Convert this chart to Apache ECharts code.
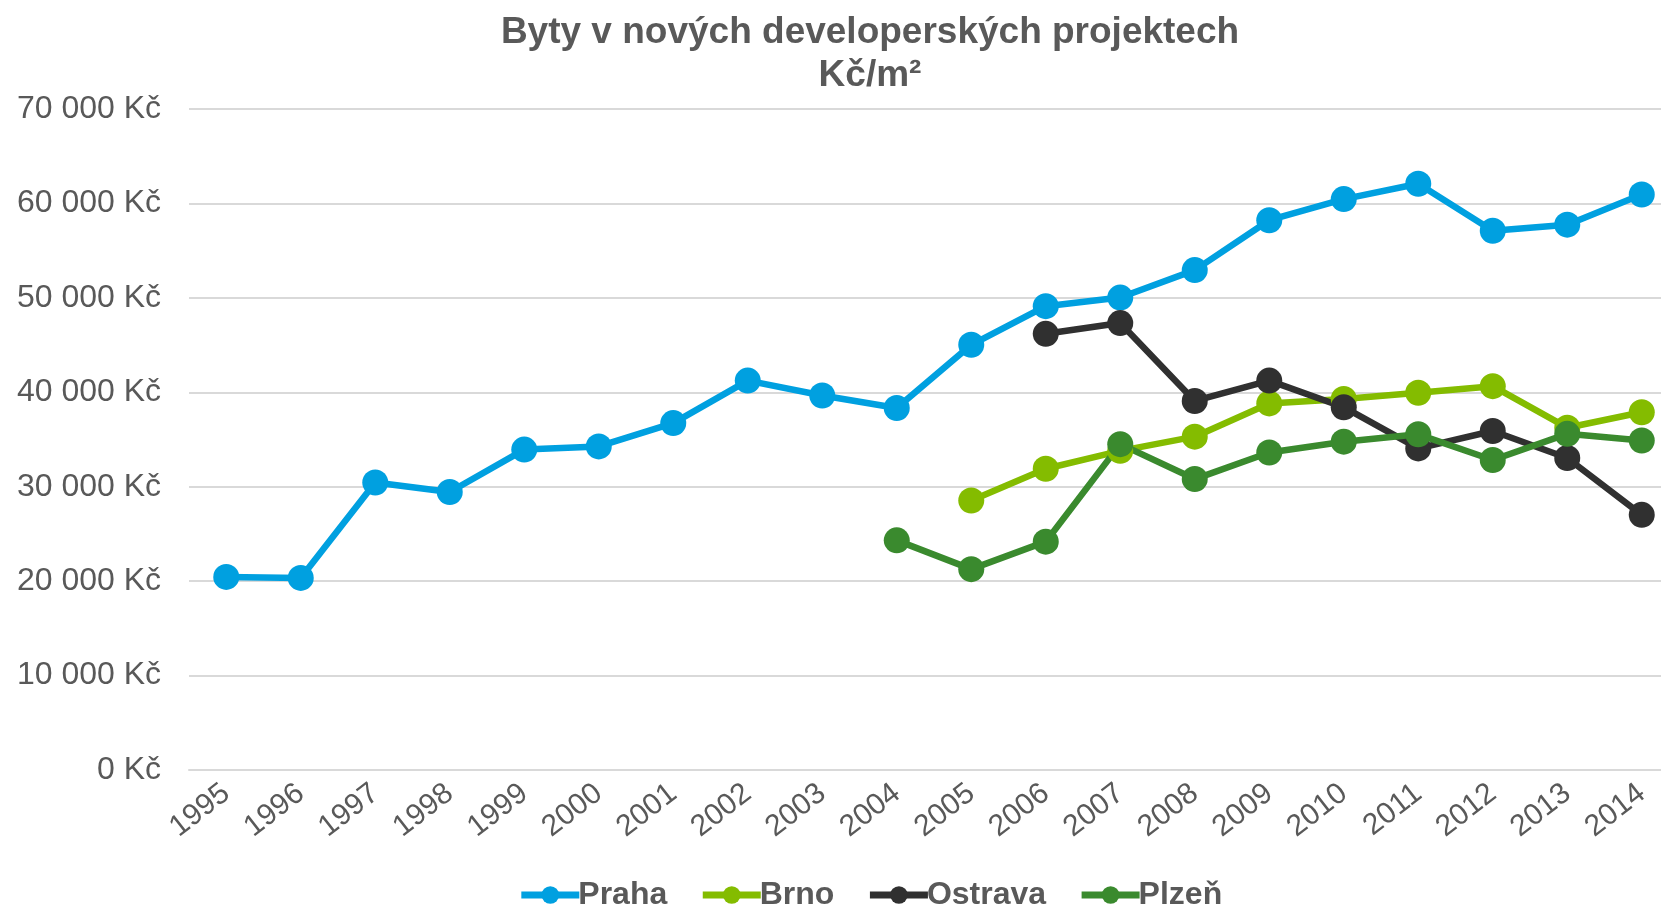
<!DOCTYPE html>
<html>
<head>
<meta charset="utf-8">
<script src="https://cdn.jsdelivr.net/npm/echarts@6/dist/echarts.min.js"></script>
<style>
  html, body { margin: 0; padding: 0; background: #fff; overflow: hidden; }
  /* plocha grafu v originale presahuje pravy okraj, proto sirsi kontejner */
  #chart { width: 1740px; height: 909px; }
</style>
</head>
<body>
<div id="chart"></div>
<script>
// roky na ose x
var years = ['1995','1996','1997','1998','1999','2000','2001','2002','2003','2004',
             '2005','2006','2007','2008','2009','2010','2011','2012','2013','2014'];

// ceny Kč/m2 (null = bez dat)
var praha = [20450, 20340, 30450, 29440, 33930, 34270, 36740, 41240, 39660, 38340,
             45030, 49120, 50030, 52940, 58220, 60460, 62080, 57100, 57750, 60940];
var brno = [null, null, null, null, null, null, null, null, null, null,
            28540, 31900, 33800, 35300, 38820, 39300, 39950, 40650, 36250, 37880];
var ostrava = [null, null, null, null, null, null, null, null, null, null,
               null, 46190, 47330, 39080, 41240, 38420, 34060, 35900, 33040, 27020];
var plzen = [null, null, null, null, null, null, null, null, null, 24320,
             21270, 24180, 34510, 30810, 33630, 34770, 35550, 32830, 35600, 34900];

var font = '"Liberation Sans", Arial, sans-serif';
var textColor = '#595959';

function line(name, data, color) {
  return {
    name: name,
    type: 'line',
    data: data,
    connectNulls: false,
    symbol: 'circle',
    symbolSize: 26,
    lineStyle: { width: 6.5, color: color },
    itemStyle: { color: color },
    emphasis: { disabled: true }
  };
}

var myChart = echarts.init(document.getElementById('chart'));
var option = {
  animation: false,
  title: {
    text: 'Byty v nových developerských projektech\nKč/m²',
    left: 'center',
    top: 6,
    textStyle: {
      fontFamily: font,
      fontSize: 37,
      fontWeight: 'bold',
      color: textColor,
      lineHeight: 43
    }
  },
  legend: {
    top: 874,
    left: 'center',
    itemWidth: 58,
    itemHeight: 22,
    itemGap: 32,
    lineStyle: { width: 7 },
    textStyle: { fontFamily: font, fontSize: 32, fontWeight: 'bold', color: textColor, padding: [0, 0, 0, -6] },
    data: ['Praha', 'Brno', 'Ostrava', 'Plzeň']
  },
  grid: { left: 189, right: 61, top: 109, bottom: 139, containLabel: false },
  xAxis: {
    type: 'category',
    data: years,
    boundaryGap: true,
    axisLine: { show: true, lineStyle: { color: '#D9D9D9', width: 2 } },
    axisTick: { show: false },
    axisLabel: {
      rotate: 38,
      interval: 0,
      margin: 20,
      fontFamily: font,
      fontSize: 30,
      color: textColor
    }
  },
  yAxis: {
    type: 'value',
    min: 0,
    max: 70000,
    interval: 10000,
    axisLine: { show: false },
    axisTick: { show: false },
    splitLine: { lineStyle: { color: '#D9D9D9', width: 2 } },
    axisLabel: {
      margin: 28,
      fontFamily: font,
      fontSize: 32,
      color: textColor,
      formatter: function (v) {
        return String(v).replace(/\B(?=(\d{3})+(?!\d))/g, ' ') + ' Kč';
      }
    }
  },
  series: [
    line('Praha', praha, '#00A0E0'),
    line('Brno', brno, '#84BC00'),
    line('Ostrava', ostrava, '#303030'),
    line('Plzeň', plzen, '#3A8A2E')
  ]
};
myChart.setOption(option);
</script>
</body>
</html>
